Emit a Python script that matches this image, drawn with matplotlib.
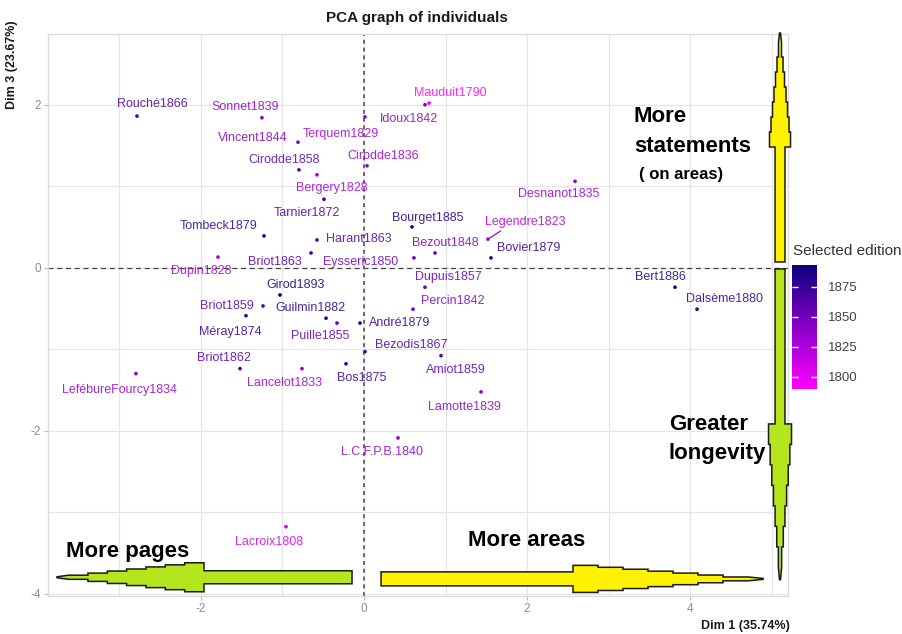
import numpy as np
import matplotlib
matplotlib.use('Agg')
import matplotlib.pyplot as plt
from matplotlib.colors import LinearSegmentedColormap, Normalize
from matplotlib.patches import Polygon
from matplotlib.cm import ScalarMappable

plt.rcParams['font.family'] = ['Liberation Sans', 'DejaVu Sans']
plt.rcParams['axes.unicode_minus'] = False

# ---------------- data ----------------
names = ["Rouché1866", "Sonnet1839", "Mauduit1790", "Idoux1842", "Vincent1844",
         "Terquem1829", "Cirodde1858", "Cirodde1836", "Bergery1828", "Desnanot1835",
         "Tarnier1872", "Bourget1885", "Legendre1823", "Tombeck1879", "Harant1863",
         "Bezout1848", "Bovier1879", "Dupin1828", "Briot1863", "Eysseric1850",
         "Dupuis1857", "Bert1886", "Girod1893", "Percin1842", "Dalsème1880",
         "Briot1859", "Guilmin1882", "André1879", "Méray1874", "Puille1855",
         "Bezodis1867", "Amiot1859", "Briot1862", "Lancelot1833", "Bos1875",
         "LefébureFourcy1834", "Lamotte1839", "L.C.F.P.B.1840", "Lacroix1808"]
years = [1866, 1839, 1790, 1842, 1844, 1829, 1858, 1836, 1828, 1835,
         1872, 1885, 1823, 1879, 1863, 1848, 1879, 1828, 1863, 1850,
         1857, 1886, 1893, 1842, 1880, 1859, 1882, 1879, 1874, 1855,
         1867, 1859, 1862, 1833, 1875, 1834, 1839, 1840, 1808]
dim1 = [-2.785, -1.252, 0.798, 0.748, -0.810, 0.012, -0.798, 0.037, -0.577, 2.589,
        -0.491, 0.589, 1.521, -1.227, -0.577, 0.871, 1.558, -1.791, -0.650, 0.613,
        0.748, 3.816, -1.031, 0.601, 4.086, -1.239, -0.466, -0.049, -1.448, -0.331,
        0.012, 0.945, -1.521, -0.761, -0.221, -2.798, 1.436, 0.417, -0.957]
dim3 = [1.86, 1.84, 2.02, 2.00, 1.54, 1.85, 1.20, 1.25, 1.14, 1.06,
        0.84, 0.50, 0.35, 0.39, 0.34, 0.18, 0.12, 0.13, 0.18, 0.12,
        -0.24, -0.24, -0.335, -0.51, -0.51, -0.47, -0.62, -0.68, -0.59, -0.68,
        -1.03, -1.08, -1.24, -1.24, -1.18, -1.30, -1.525, -2.09, -3.18]
x_ticks = [-2, 0, 2, 4]
y_ticks = [-4, -2, 0, 2]
cbar_ticks = [1800, 1825, 1850, 1875]

# label placement (repel-like offsets in pixels: right, down)
label_off = [(15, -12), (-17, -11), (21, -10), (-16, 14), (-45, -4),
             (-24, 17), (-15, -10), (16, -10), (15, 13), (-16, 13),
             (-17, 14), (16, -9), (37, -17), (-45, -10), (42, -1),
             (10, -10), (38, -10), (-17, 14), (-36, 9), (-53, 4),
             (23, -10), (-15, -10), (16, -10), (40, -8), (27, -10),
             (-36, 0), (-16, -10), (40, 0), (-16, 16), (-17, 13),
             (46, -7), (15, 14), (-16, -11), (-17, 14), (16, 14),
             (-16, 16), (-17, 15), (-16, 14), (-17, 15)]

W, H = 903, 634
fig = plt.figure(figsize=(W / 100, H / 100), dpi=100)
fig.patch.set_facecolor('white')

def fx(px):
    return px / W

def fy(py):
    return 1 - py / H

ax = fig.add_axes([fx(48), fy(596), (788 - 48) / W, (596 - 34) / H])
ax.set_xlim(-3.877, 5.202)
ax.set_ylim(-4.03, 2.868)
ax.set_facecolor('white')

cmap = LinearSegmentedColormap.from_list('ed', ['#FF00FF', '#8800C8', '#0c0080'])
norm = Normalize(vmin=min(years), vmax=max(years))

# grid
ax.set_xticks(x_ticks)
ax.set_yticks(y_ticks)
ax.set_xticks([-3, -1, 1, 3, 5], minor=True)
ax.set_yticks([-3, -1, 1], minor=True)
ax.grid(True, which='both', color='#e6e6e6', lw=0.9, zorder=0)
ax.set_axisbelow(True)
for s in ax.spines.values():
    s.set_color('#dcdcdc')
    s.set_linewidth(1.0)
ax.tick_params(which='major', length=3, color='#bbbbbb', labelsize=8.5,
               labelcolor='#8c8c8c', pad=2)
ax.tick_params(which='minor', length=0)

ax.axhline(0, color='#444444', lw=0.9, ls=(0, (4, 3)), zorder=1)
ax.axvline(0, color='#666666', lw=1.4, ls=(0, (2, 2)), zorder=1)

cols = cmap(norm(np.array(years)))
ax.scatter(dim1, dim3, s=7, c=cols, zorder=3, linewidths=0)

for i, nm in enumerate(names):
    dx, dy = label_off[i]
    kw = {}
    if nm.startswith('Legendre'):
        kw = dict(arrowprops=dict(arrowstyle='-', color=cols[i], lw=0.9,
                                  shrinkA=0, shrinkB=1,
                                  relpos=(0.25, 0.0)))
    ax.annotate(nm, (dim1[i], dim3[i]), xytext=(dx, -dy),
                textcoords='offset pixels', ha='center', va='center',
                fontsize=9, color=cols[i], alpha=0.85, zorder=4, **kw)

# ---------------- stepped arrows ----------------
def stepped_arrow(ax, axis, center, tail, head_base, tip, bw, hw, fc, nsteps=7):
    L = tip - head_base
    pts = [(tail, bw), (head_base, bw), (head_base, hw)]
    for k in range(nsteps):
        s0 = head_base + L * k / (nsteps + 0.6)
        s1 = head_base + L * (k + 1) / (nsteps + 0.6)
        w = hw * (1 - k / nsteps)
        pts.append((s0, w))
        pts.append((s1, w))
    pts.append((tip, 0.006))
    upper = pts
    lower = [(p, -w) for p, w in reversed(pts)]
    prof = upper + lower
    if axis == 'h':
        xy = [(p, center + w) for p, w in prof]
    else:
        xy = [(center + w, p) for p, w in prof]
    poly = Polygon(xy, closed=True, facecolor=fc, edgecolor='#1a1a1a',
                   lw=1.1, zorder=5, clip_on=False, joinstyle='miter')
    ax.add_patch(poly)

green = '#B5E61D'
yellow = '#FFF200'
stepped_arrow(ax, 'h', -3.80, -0.147, -1.963, -3.767, 0.08, 0.178, green)
stepped_arrow(ax, 'h', -3.82, 0.209, 2.564, 4.896, 0.086, 0.166, yellow)
stepped_arrow(ax, 'v', 5.104, 0.07, 1.481, 2.88, 0.061, 0.129, yellow)
stepped_arrow(ax, 'v', 5.104, -0.016, -1.918, -3.83, 0.061, 0.141, green)

# ---------------- texts ----------------
fig.text(fx(417), fy(18), 'PCA graph of individuals', ha='center', va='center',
         fontsize=11, fontweight='bold', color='#1a1a1a')
fig.text(fx(790), fy(626), 'Dim 1 (35.74%)', ha='right', va='center',
         fontsize=9, fontweight='bold', color='#1a1a1a')
fig.text(fx(12), fy(20), 'Dim 3 (23.67%)', ha='center', va='top', rotation=90,
         fontsize=9, fontweight='bold', color='#1a1a1a')

fig.text(fx(634), fy(117), 'More', ha='left', va='center', fontsize=16, fontweight='bold')
fig.text(fx(634), fy(147), 'statements', ha='left', va='center', fontsize=16, fontweight='bold')
fig.text(fx(639), fy(174), '( on areas)', ha='left', va='center', fontsize=12, fontweight='bold')
fig.text(fx(669), fy(425), 'Greater', ha='left', va='center', fontsize=16, fontweight='bold')
fig.text(fx(669), fy(453), 'longevity', ha='left', va='center', fontsize=16, fontweight='bold')
fig.text(fx(66), fy(551), 'More pages', ha='left', va='center', fontsize=16, fontweight='bold')
fig.text(fx(468), fy(540), 'More areas', ha='left', va='center', fontsize=16, fontweight='bold')

# ---------------- colour bar ----------------
cax = fig.add_axes([fx(792), fy(389), 25 / W, 124 / H])
sm = ScalarMappable(norm=norm, cmap=cmap)
cb = fig.colorbar(sm, cax=cax)
cb.set_ticks(cbar_ticks)
cb.outline.set_visible(False)
cax.tick_params(direction='in', color='white', length=4, width=1,
                left=True, right=True, labelsize=9.5, labelcolor='#444444', pad=8)
fig.text(fx(793), fy(251), 'Selected edition', ha='left', va='center',
         fontsize=11, color='#333333')

fig.savefig('out.png', dpi=100, facecolor='white')
